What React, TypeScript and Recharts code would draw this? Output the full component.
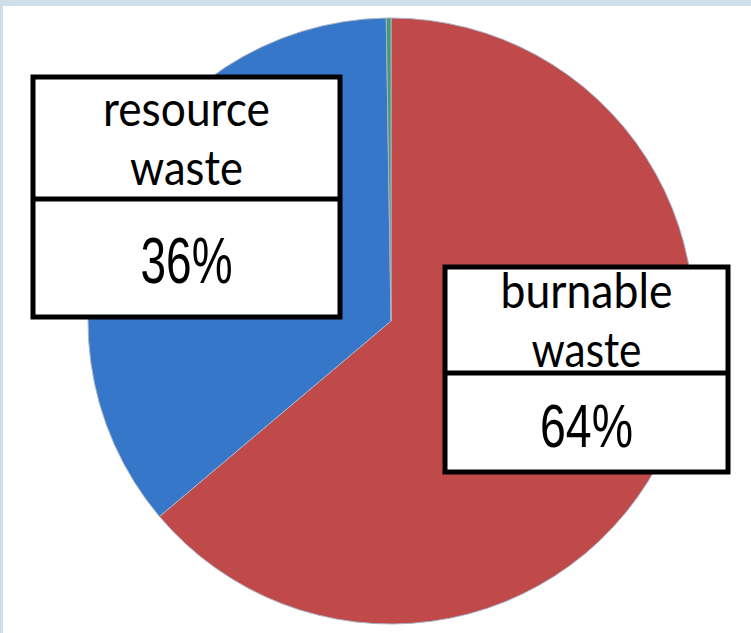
import React from 'react';
import { PieChart, Pie, Cell } from 'recharts';

const categories = ['burnable waste', 'resource waste', 'other'];
const shares = [64, 36, 0.25];
const shareLabels = ['64%', '36%', ''];
const nameLines = [['burnable', 'waste'], ['resource', 'waste'], []];
const colors = ['#c0494a', '#3677ca', '#3f9c73'];

const data = categories.map((name, i) => ({ name, value: shares[i] }));

// chart area sits inside the light frame (3px left, 6px top)
const W = 748;
const H = 627;
const CX = 388;
const CY = 315;
const R = 303;

// label box placement relative to pie centre
const boxes: Record<string, any> = {
  'resource waste': {
    dx: -358, dy: -244, w: 307, h: 240, split: 122,
    lines: [{ base: 49, len: 167 }, { base: 108, len: 113 }], pct: { base: 206, len: 92, size: 64 },
  },
  'burnable waste': {
    dx: 54, dy: -54, w: 283, h: 205, split: 106,
    lines: [{ base: 41, len: 172 }, { base: 100, len: 110 }], pct: { base: 180, len: 93, size: 61 },
  },
};

const renderLabel = (props: any) => {
  const i = categories.indexOf(props.name);
  const b = boxes[props.name];
  if (!b) return null;
  const x = CX + b.dx;
  const y = CY + b.dy;
  const mid = x + b.w / 2;
  return (
    <g>
      <rect x={x} y={y} width={b.w} height={b.h} fill="#fff" stroke="#000" strokeWidth={5} />
      <line x1={x} x2={x + b.w} y1={y + b.split} y2={y + b.split} stroke="#000" strokeWidth={5} />
      {nameLines[i].map((t, k) => (
        <text
          key={k}
          x={mid}
          y={y + b.lines[k].base}
          textAnchor="middle"
          textLength={b.lines[k].len}
          lengthAdjust="spacingAndGlyphs"
          fontFamily="Lato, sans-serif"
          fontSize={48}
          fill="#000"
        >
          {t}
        </text>
      ))}
      <text
        x={mid}
        y={y + b.pct.base}
        textAnchor="middle"
        textLength={b.pct.len}
        lengthAdjust="spacingAndGlyphs"
        fontFamily="'Liberation Sans', Arial, sans-serif"
        fontSize={b.pct.size}
        fill="#000"
      >
        {shareLabels[i]}
      </text>
    </g>
  );
};

const App: React.FC = () => {
  return (
    <div
      style={{
        position: 'fixed',
        top: 0,
        left: 0,
        width: 751,
        height: 633,
        boxSizing: 'border-box',
        background: '#fff',
        borderTop: '6px solid #cfdfea',
        borderLeft: '3px solid #cfdfea',
      }}
    >
      <PieChart width={W} height={H} margin={{ top: 0, right: 0, bottom: 0, left: 0 }}>
        <Pie
          data={data}
          dataKey="value"
          nameKey="name"
          cx={CX}
          cy={CY}
          outerRadius={R}
          startAngle={90}
          endAngle={-270}
          stroke="#a9b3c6"
          strokeWidth={1}
          labelLine={false}
          label={renderLabel}
          isAnimationActive={false}
        >
          {data.map((d, i) => (
            <Cell key={d.name} fill={colors[i]} />
          ))}
        </Pie>
      </PieChart>
    </div>
  );
};

export default App;
